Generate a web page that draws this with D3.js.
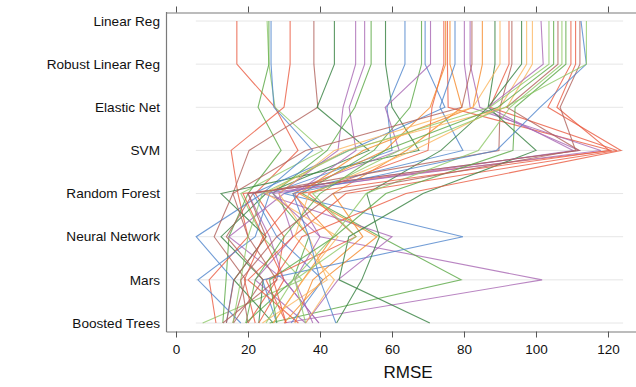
<!DOCTYPE html>
<html><head><meta charset="utf-8">
<script src="https://cdn.jsdelivr.net/npm/d3@7"></script>
<style>body{margin:0;background:#fff;}svg{display:block;font-family:"Liberation Sans",Arial,sans-serif;}</style>
</head><body><svg id="c" width="636" height="387"></svg>
<script>
const models = ["Linear Reg","Robust Linear Reg","Elastic Net","SVM","Random Forest","Neural Network","Mars","Boosted Trees"];
const xTicks = [0,20,40,60,80,100,120];
const xLabel = "RMSE";
const seriesColors = ["red","lgreen","green","blue","red","brown","dgreen","purple","purple","green","dgreen","blue","green","blue","purple","red","orange","red","orange","blue","purple","purple","brown","orange","dgreen","lorange","red","brown","dgreen","lorange","lorange","purple","lgreen","green","brown","lgreen","green","red","red","brown","blue","lgreen"];
// columns follow models order
const rmse = [
[16.9,16.9,27.5,33.9,22,30,28,20],
[25.3,25.8,27.5,40.8,18,24,35,7.4],
[25.8,25.8,22.8,29.2,20,14.7,13.9,13],
[26.4,26.4,27.2,38,24,5.6,16,14],
[31.7,31.7,30.0,15.3,17.2,20,9.2,11.1],
[38.3,38.3,39.4,20.3,15.8,10.6,19.4,15.8],
[44.0,44.0,39.2,53.6,25,12.5,24.2,23],
[49.9,49.9,46.4,45,28.6,32.5,22,36],
[52.4,52.4,48.1,50,33,40,101.7,30],
[54.2,54.2,49.7,42,26.9,36.9,32.5,19.4],
[58.2,58.2,60.0,67.5,12.5,25,16.1,27],
[63.6,63.6,58.6,60,26,22,6.1,18],
[68.2,68.2,65.0,55,35,56.7,79.2,26],
[69.2,69.2,74.7,48,21.4,28,40.8,32],
[70.7,70.7,58.1,62,30,14.7,30,39.7],
[74.4,74.4,71.1,70,36.9,50,25,30.6],
[74.9,74.9,70.6,58,32.5,43.6,35.3,27],
[75.4,75.4,75.6,121,18.6,24.2,19,22],
[76.1,76.1,79.4,64,43.6,51.9,38,33],
[77.5,77.5,73.3,79.7,30,79.7,24,28],
[80.1,80.1,81.7,118,24.2,60,45,36],
[81.7,81.7,84.4,112,20,26,30,39.7],
[82.2,82.2,79.4,36,15.8,20,28,13],
[85.1,85.1,82.5,52,34.2,55.8,40.8,30],
[88.6,88.6,86.7,73.6,53,56.5,51.6,44.6],
[90.0,90.0,82.5,44,28.6,36.9,42,24],
[92.5,92.5,87.2,122.5,47.2,32.5,20,34],
[93.3,93.3,90.0,89.7,21.4,14,24.2,16],
[96.0,96.0,86.7,100,68.6,48,45.3,70.5],
[97.4,97.4,90.0,66,36.9,33,44,36],
[99.0,99.0,91.9,47,25,45,35.3,27],
[101.4,102,86.7,110.3,27,40,33,38],
[103.6,103.6,87.2,48,24,20,18,15.8],
[104.9,104.9,89.4,58,40,30,22,19.4],
[106.1,106.1,91.9,112,20,25,16.1,14],
[107.2,107.2,92.8,84,52.8,43.6,32.5,25],
[108.3,108.3,94.2,93.6,58.3,44,26,28],
[109.7,109.7,103.3,123.6,63.9,35,27,30.6],
[111.0,111.0,105.8,120.3,34.2,24.2,30,23],
[112.2,112.2,106.7,111,43.6,28,18,20],
[112.5,114.0,101.1,89,32.5,36.9,40,44.4],
[114.0,114.0,91.4,62,38,50,33,36]
];
const palette = {red:"#ea5a40",lgreen:"#8dc867",green:"#5aa845",blue:"#4f84cc",brown:"#b0605a",dgreen:"#347f3f",purple:"#a866b3",orange:"#f5892a",lorange:"#fbb55e"};

const svg = d3.select("#c");
const x = d3.scaleLinear().domain([-2.78,127.78]).range([166,636]);
const y = d3.scalePoint().domain(models).range([21,323]);

// grid
svg.append("g").selectAll("line").data(models).join("line")
  .attr("x1",x(5.5)).attr("x2",x(124.2))
  .attr("y1",d=>y(d)).attr("y2",d=>y(d))
  .attr("stroke","#e6e6e6").attr("stroke-width",1);

// lines
const line = d3.line().x(d=>x(d.v)).y(d=>y(d.m));
svg.append("g").selectAll("path").data(rmse).join("path")
  .attr("d",r=>line(r.map((v,i)=>({v,m:models[i]}))))
  .attr("fill","none")
  .attr("stroke",(r,i)=>palette[seriesColors[i]])
  .attr("stroke-width",1.1)
  .attr("stroke-opacity",0.8);

// axes
const axB = svg.append("g").attr("transform","translate(0,331.5)")
  .call(d3.axisBottom(x).tickValues(xTicks).tickSize(6).tickSizeOuter(0).tickFormat(d3.format("d")));
const axT = svg.append("g").attr("transform","translate(0,12.5)")
  .call(d3.axisTop(x).tickValues(xTicks).tickSize(6).tickSizeOuter(0).tickFormat(""));
[axB,axT].forEach(a=>{
  a.select(".domain").attr("stroke","#7a7a7a").attr("stroke-width",1.2);
  a.selectAll(".tick line").attr("stroke","#555");
});
axB.selectAll("text").attr("font-size",13.5).attr("fill","#111").attr("dy","1em");
svg.append("line").attr("x1",166.5).attr("x2",166.5).attr("y1",12).attr("y2",332)
  .attr("stroke","#7a7a7a").attr("stroke-width",1.2);

// category labels
svg.append("g").selectAll("text").data(models).join("text")
  .attr("x",160).attr("y",d=>y(d)).attr("dy","0.35em")
  .attr("text-anchor","end").attr("font-size",13.6).attr("fill","#111").text(d=>d);

svg.append("text").attr("x",408).attr("y",378).attr("text-anchor","middle")
  .attr("font-size",17).attr("fill","#111").text(xLabel);
</script></body></html>
